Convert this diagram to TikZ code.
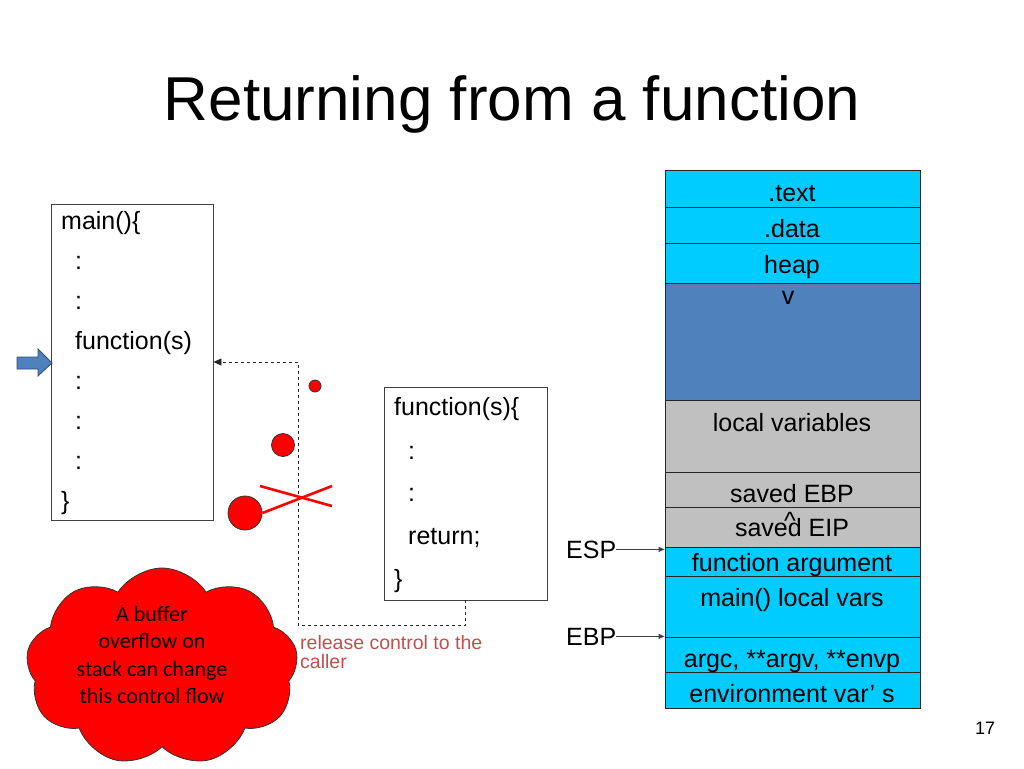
\documentclass[tikz,border=0pt]{standalone}
\usepackage{fontspec}
\setmainfont{Liberation Sans}
\newfontfamily\calibri{Carlito}
\usetikzlibrary{arrows.meta,positioning,shapes.symbols,calc}
\definecolor{segcyan}{HTML}{00CCFF}
\definecolor{segblue}{HTML}{4F81BD}
\definecolor{seggray}{HTML}{C0C0C0}
\definecolor{boxline}{HTML}{404040}
\definecolor{relred}{HTML}{C0504D}
\definecolor{pcblue}{HTML}{4F81BD}
\tikzset{
  code/.style={draw=boxline,fill=white,line width=0.9pt,inner sep=0pt},
  cell/.style={draw=black!85,line width=0.9pt,minimum width=255pt,inner sep=0pt},
  txt/.style={inner sep=0pt,anchor=base west,font=\fontsize{25}{30}\selectfont},
  lbl/.style={inner sep=0pt,anchor=base,font=\fontsize{25}{30}\selectfont},
  blob/.style={circle,draw=black!80,fill=red,line width=0.8pt,inner sep=0pt},
  xmark/.style={draw=red,line width=2.6pt},
  ptr/.style={-{Triangle[length=6pt,width=5pt]},draw=black!75,line width=0.9pt},
  flow/.style={-{Triangle[length=8pt,width=7pt]},dashed,draw=black!85,line width=0.9pt},
}

\begin{document}
\begin{tikzpicture}[x=1pt,y=-1pt]
  \useasboundingbox (0,0) rectangle (1024,768);
  \node[inner sep=0pt,anchor=base,font=\fontsize{62}{70}\selectfont] (title) at (512,120) {Returning from a function};

  % caller
  \node[code,minimum width=162pt,minimum height=316pt] (mainbox) at (132,362) {};
  \node[txt] (m1) at (61,229) {main()\{};
  \node[txt] (m2) at (75,269) {:};
  \node[txt] (m3) at (75,309) {:};
  \node[txt] (m4) at (75,349) {function(s)};
  \node[txt] (m5) at (75,389) {:};
  \node[txt] (m6) at (75,429) {:};
  \node[txt] (m7) at (75,469) {:};
  \node[txt] (m8) at (61,509) {\}};
  \draw[fill=pcblue,draw=pcblue!60!black,line width=0.8pt] (17,357) -- (38,357) -- (38,349) -- (52,363) -- (38,376) -- (38,369) -- (17,369) -- cycle;

  % callee
  \node[code,minimum width=163pt,minimum height=213pt] (fbox) at (465.5,493.5) {};
  \node[txt] (f1) at (394,415) {function(s)\{};
  \node[txt] (f2) at (408,459) {:};
  \node[txt] (f3) at (408,501) {:};
  \node[txt] (f4) at (408,544) {return;};
  \node[txt] (f5) at (394,587) {\}};

  \draw[flow] (fbox.south) -- ++(0,25) -| ([xshift=85pt]mainbox.east) -- (mainbox.east);
  \node[inner sep=0pt,anchor=north west,align=left,text=relred,font=\fontsize{19.5}{19}\selectfont] (release) at (300,635) {release control to the\\caller};

  % overflow bubbles
  \node[blob,minimum size=12pt] (b1) at (315,386) {};
  \node[blob,minimum size=23pt] (b2) at (283,445) {};
  \node[blob,minimum size=34pt] (b3) at (245,513) {};
  \draw[xmark] (260,486) -- (332,506);
  \draw[xmark] (b3.east) -- (332,486);

  \node[cloud,cloud puffs=9,cloud puff arc=115,cloud ignores aspect,draw=black!80,fill=red,line width=0.8pt,minimum width=272pt,minimum height=198pt] (burst) at (162,667) {};
  \node[align=center,inner sep=0pt,font=\calibri\fontsize{22}{27.5}\selectfont,text=black] (bufnote) at (152,655) {A buffer\\overflow on\\stack can change\\this control flow};

  % process memory
  \node[cell,fill=segcyan,minimum height=37pt] (stext) at (792.5,188.5) {};
  \node[cell,fill=segcyan,minimum height=36pt] (sdata) at (792.5,225) {};
  \node[cell,fill=segcyan,minimum height=40pt] (sheap) at (792.5,263) {};
  \node[cell,fill=segblue,minimum height=117pt] (sfree) at (792.5,341.5) {};
  \node[cell,fill=seggray,minimum height=72pt] (slocal) at (792.5,436) {};
  \node[cell,fill=seggray,minimum height=35pt] (sebp) at (792.5,489.5) {};
  \node[cell,fill=seggray,minimum height=40pt] (seip) at (792.5,527) {};
  \node[cell,fill=segcyan,minimum height=29pt] (farg) at (792.5,561.5) {};
  \node[cell,fill=segcyan,minimum height=61pt] (mvars) at (792.5,606.5) {};
  \node[cell,fill=segcyan,minimum height=35pt] (argc) at (792.5,654.5) {};
  \node[cell,fill=segcyan,minimum height=36pt] (envs) at (792.5,690) {};

  \node[lbl] (ltext) at (792,201) {.text};
  \node[lbl] (ldata) at (792,237) {.data};
  \node[lbl] (lheap) at (792,273) {heap};
  \node[lbl] (lgrow) at (788,304) {v};
  \node[lbl] (llocal) at (792,431) {local variables};
  \node[lbl] (lebp) at (792,502) {saved EBP};
  \node[lbl] (leip) at (792,536) {saved EIP};
  \node[lbl] (lcaret) at (790,529) {\textasciicircum};
  \node[lbl] (larg) at (792,571) {function argument};
  \node[lbl] (lmvars) at (792,606) {main() local vars};
  \node[lbl] (largc) at (792,667) {argc, **argv, **envp};
  \node[lbl] (lenv) at (792,702) {environment var’ s};

  \node[txt] (esp) at (566,558) {ESP};
  \node[txt] (ebp) at (566,645) {EBP};
  \draw[ptr] (esp.east) -- (esp.east -| farg.west);
  \draw[ptr] (ebp.east) -- (ebp.east -| argc.west);

  \node[inner sep=0pt,anchor=base,font=\fontsize{18}{20}\selectfont] (pageno) at (985,734) {17};
\end{tikzpicture}
\end{document}
